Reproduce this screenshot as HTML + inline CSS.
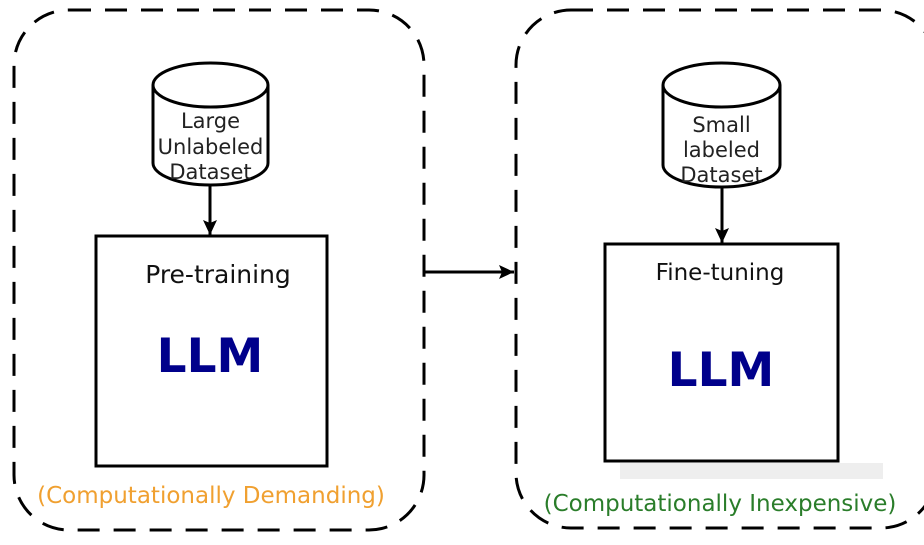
<!DOCTYPE html>
<html><head><meta charset="utf-8"><style>
html,body{margin:0;padding:0;background:#fff;width:924px;height:545px;overflow:hidden}
text{font-family:"DejaVu Sans","Liberation Sans",sans-serif}
</style></head><body>
<svg width="924" height="545" viewBox="0 0 924 545" xmlns="http://www.w3.org/2000/svg">
<defs><marker id="ah" markerWidth="16" markerHeight="16" refX="15" refY="7" orient="auto" markerUnits="userSpaceOnUse"><path d="M0,0 L15,7 L0,14 L3,7 Z" fill="#000"/></marker></defs>
<rect x="14" y="10" width="410" height="520" rx="55" fill="none" stroke="#000" stroke-width="3" stroke-dasharray="22,14"/>
<rect x="516" y="10" width="420" height="518" rx="55" fill="none" stroke="#000" stroke-width="3" stroke-dasharray="22,14"/>
<!-- left cylinder -->
<path d="M153,85 L153,163 A57.5,22 0 0 0 268,163 L268,85" fill="#fff" stroke="#000" stroke-width="3"/>
<ellipse cx="210.5" cy="85" rx="57.5" ry="22" fill="#fff" stroke="#000" stroke-width="3"/>
<text x="210.5" y="128" font-size="21" text-anchor="middle" fill="#222">Large</text>
<text x="210.5" y="154" font-size="21" text-anchor="middle" fill="#222">Unlabeled</text>
<text x="210.5" y="179" font-size="21" text-anchor="middle" fill="#222">Dataset</text>
<line x1="210" y1="185" x2="210" y2="235" stroke="#000" stroke-width="3" marker-end="url(#ah)"/>
<rect x="96" y="236" width="231" height="230" fill="none" stroke="#000" stroke-width="3"/>
<text x="218" y="283" font-size="25" text-anchor="middle" fill="#111">Pre-training</text>
<text x="210" y="372" font-size="47" font-weight="bold" text-anchor="middle" fill="#00008b">LLM</text>
<text x="211" y="503" font-size="23" text-anchor="middle" fill="#f0a030">(Computationally Demanding)</text>
<!-- middle arrow -->
<line x1="425" y1="272" x2="514" y2="272" stroke="#000" stroke-width="3" marker-end="url(#ah)"/>
<!-- right cylinder -->
<path d="M663,85 L663,165 A58.5,22 0 0 0 780,165 L780,85" fill="#fff" stroke="#000" stroke-width="3"/>
<ellipse cx="721.5" cy="85" rx="58.5" ry="22" fill="#fff" stroke="#000" stroke-width="3"/>
<text x="721.5" y="132" font-size="21" text-anchor="middle" fill="#222">Small</text>
<text x="721.5" y="157" font-size="21" text-anchor="middle" fill="#222">labeled</text>
<text x="721.5" y="182" font-size="21" text-anchor="middle" fill="#222">Dataset</text>
<line x1="722" y1="187" x2="722" y2="243" stroke="#000" stroke-width="3" marker-end="url(#ah)"/>
<rect x="605" y="244" width="233" height="217" fill="none" stroke="#000" stroke-width="3"/>
<text x="720" y="280" font-size="23" text-anchor="middle" fill="#111">Fine-tuning</text>
<text x="721" y="386" font-size="47" font-weight="bold" text-anchor="middle" fill="#00008b">LLM</text>
<rect x="620" y="463" width="263" height="16" fill="#eeeeee"/>
<text x="720" y="511" font-size="23" text-anchor="middle" fill="#2a7d2a">(Computationally Inexpensive)</text>
</svg>
</body></html>
